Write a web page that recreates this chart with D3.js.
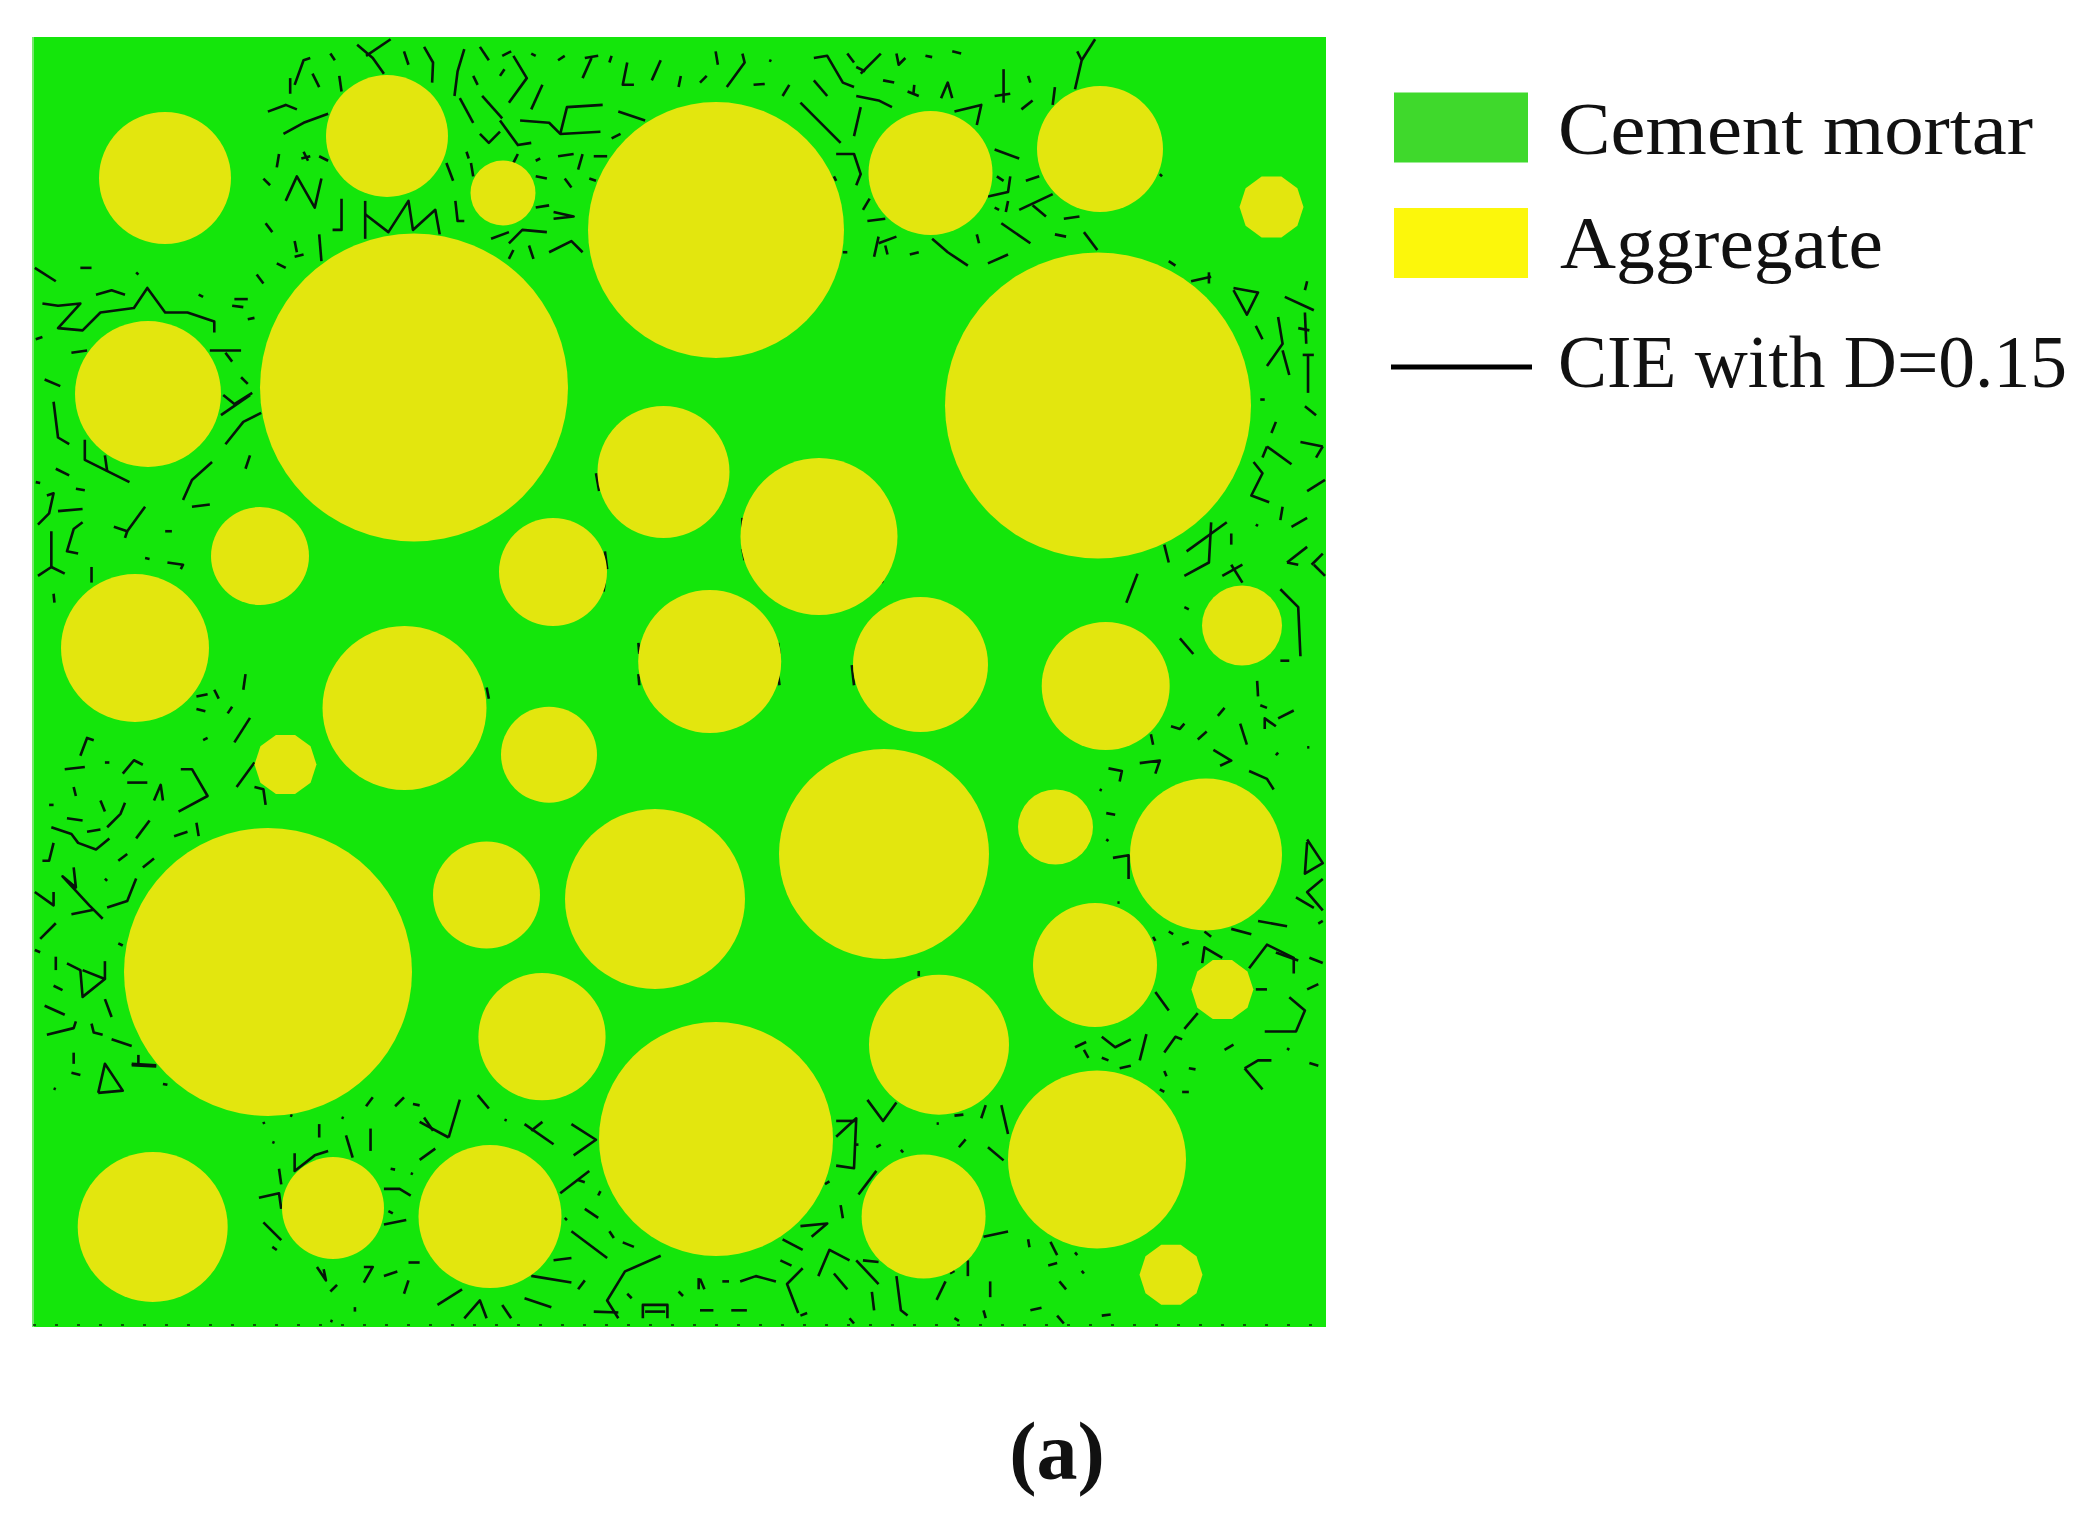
<!DOCTYPE html>
<html>
<head>
<meta charset="utf-8">
<script src="https://cdnjs.cloudflare.com/ajax/libs/d3/7.8.5/d3.min.js"></script>
<style>
  html, body { margin: 0; padding: 0; background: #fff; }
  svg { display: block; }
  text { font-family: "Liberation Serif", serif; fill: #111; }
</style>
</head>
<body>
<svg width="2096" height="1525"></svg>
<script>
// aggregates, in mesh units measured from the specimen's top left corner
const aggX = [132,354,470,381,115,227,520,102,371.5,630.5,786,683,897.5,1067,1238.5,1065,1209,887.5,1072.7,676.7,252.5,235,516,453.5,622,509,119.7,300,457,683,851,1022.5,1173,1062,1189.4,906,1064,890.6,1138];
const aggY = [141,99,156,350.5,357,519,535,611,671,435,499.5,193,136,112,170,368.5,588.5,627.5,649,624.5,727.5,935,717.7,858,862,999.7,1190,1171,1179.6,1102,817,790,817.5,928,952.6,1007.7,1122.5,1179.4,1237.7];
const aggR = [66,61,32.5,154,73,49,54,74,82,66,78.5,128,62,63,32,153,40,67.5,64,71.5,31,144,48,53.5,90,63.6,75,51,71.5,117,105,37.5,76,62,31,70,89,62,31.5];

// crack traces read tile by tile, each trace is x,y,x,y... in tile units (0-1568)
const cracksTopLeft = [
[800,100,835,130,860,165],[820,125,875,88],[905,115,915,145],[950,105,970,140,968,185],
[1040,110,1025,160,1018,215],[1075,105,1095,135],[1060,170,1070,190],[1125,125,1145,115],[1130,155,1120,170],
[1150,125,1180,175,1140,230],[1215,190,1190,245],[1030,220,1060,275],[1080,215,1125,265],[1075,300,1095,320,1120,295],
[1120,270,1160,325,1190,320],[1165,270,1230,275,1255,300,1345,295],[1255,300,1270,240,1350,235],[1310,130,1340,125],[1325,130,1305,175],
[1370,125,1365,140],[1405,140,1395,190,1420,190],[1480,135,1460,180],[1525,170,1520,195],[1250,135,1265,125],[1190,120,1200,125],
[660,190,680,135,695,130],[650,175,650,210],[700,165,715,195],[760,170,765,205],[740,120,750,135],[600,250,640,235,665,245],
[635,300,680,275,735,255],[625,345,620,375],[675,355,695,350],[680,340,690,360],[715,350,735,360],[590,400,605,415],
[640,450,665,395,705,465,720,400],[595,500,610,520],[660,540,665,565],[715,525,720,585],[660,575,680,570],[765,445,765,515,745,515],
[818,450,818,535],[818,480,870,520,915,450,925,515,975,470,985,525],[620,590,640,600],[575,615,590,635],[1020,450,1025,495,1040,495],
[1000,365,1015,405],[1045,340,1050,355],[1055,365,1060,395],[1160,345,1150,365],[1200,360,1210,355],[1250,350,1285,345],[1305,345,1295,380],
[1265,400,1280,420],[1200,395,1225,400],[1200,465,1230,460],[1240,490,1285,485,1240,475],[1100,535,1140,520],[1140,545,1170,515,1225,520],
[1140,580,1150,560],[1185,550,1195,580],[1230,565,1280,540,1305,565],[1385,250,1445,270],[1390,300,1370,310],[1330,350,1360,350],[1320,400,1335,405],
[78,600,125,630],[180,600,205,600],[95,680,130,685,180,680,130,735,185,740,225,700,300,690,330,645,370,700,420,700,480,720,480,745],
[215,660,250,650,280,660],[305,610,310,615],[525,670,555,670],[520,685,545,688],[445,660,455,665],[555,715,570,712],[470,785,540,785],[505,790,520,810],
[160,790,195,785],[100,850,135,865],[120,900,130,980,155,995],[540,845,555,860],[500,885,525,905,565,880],[495,930,560,885],[505,995,545,945,585,925],
[190,985,190,1030,290,1080],[235,1020,240,1055],[125,1050,155,1065],[80,1080,90,1082],[170,1095,190,1098],[410,1120,430,1075,475,1035],[550,1050,560,1020],
[430,1135,470,1130],[105,1110,120,1105,110,1150,85,1175],[130,1145,185,1140],[185,1170,165,1185,150,1235,175,1240],[255,1180,285,1190,325,1135],[285,1190,280,1205],
[115,1190,115,1270,85,1290],[115,1270,145,1285],[80,760,95,755],[370,1190,385,1190],[375,1260,410,1265,405,1275],[205,1270,205,1305],[325,1250,335,1252],[120,1330,122,1350],
[1335,1060,1342,1100],[1355,1235,1360,1275],[1355,1300,1352,1325],[1430,1440,1432,1465],[1430,1510,1432,1535],[1090,1540,1095,1565],[440,1560,465,1555],[480,1545,490,1565],[550,1510,545,1545]
];
const cracksBottomLeft = [
[440,20,460,25],[510,30,520,15],[525,95,560,40],[455,90,465,85],[180,125,195,85,210,90],[145,155,190,150],[235,140,245,140],[275,165,300,135,320,145],[285,185,330,185],
[165,195,170,215],[345,225,360,190,365,225],[405,155,430,155,465,215,400,250],[530,195,570,140],[570,195,590,200,595,235],[110,235,120,235],[225,225,235,250],[150,265,185,270],
[280,230,270,255,240,285],[115,285,160,300,175,320,215,335,245,310],[195,295,225,290],[305,310,335,270],[390,305,420,295],[440,275,445,305],[120,320,110,360,95,360],[265,360,285,345],[320,375,345,355],
[165,375,170,420,140,395,200,460,230,490],[160,480,210,470],[240,465,285,450,305,400],[235,400,240,405],[78,430,120,460,120,430],[125,500,90,535],[78,560,90,565],[125,575,125,605],
[150,590,180,605,185,665,235,625,185,605],[235,585,235,625],[120,640,140,650],[235,670,250,710],[100,685,145,705],[105,750,165,735,170,720],[205,725,210,745,230,750],[250,760,295,775],
[165,790,165,815],[160,835,180,840],[295,815,350,818],[295,818,350,821],[310,795,310,815],[220,880,235,815,275,875,220,880],[120,870,125,872],[365,860,375,862],[265,545,275,550],
[820,910,835,890],[885,910,905,890],[925,905,940,908],[1005,980,1030,895],[940,945,1005,980],[950,935,970,965],[1070,885,1095,915],[590,945,592,950],[650,930,655,932],[765,935,770,937],[610,990,615,992],
[715,950,715,980],[830,960,830,1010],[775,975,790,1025],[660,1015,660,1055,705,1020,735,1010],[625,1050,630,1085],[1175,950,1240,995],[1215,945,1190,965],[1280,950,1335,985,1285,1020],[1130,940,1135,942],[940,1030,975,1005],
[860,1095,895,1095,920,1110],[875,1050,885,1052],[920,1060,925,1062],[580,1115,625,1105,630,1140],[590,1170,630,1210],[610,1225,620,1232],[1255,1105,1320,1055],[1295,1075,1310,1080],[860,1175,910,1165],[870,1145,880,1150],
[915,1260,940,1260],[710,1270,730,1300,725,1275],[740,1325,755,1310],[815,1270,835,1270,815,1305],[860,1290,890,1280],[915,1300,905,1330],[980,1355,1035,1320],[1040,1385,1075,1345,1090,1385],[1125,1355,1145,1385],[1175,1340,1235,1360],
[1190,1290,1280,1305],[1240,1255,1280,1250],[1295,1320,1310,1300],[1345,1100,1340,1110],[1310,1140,1340,1160],[1280,1190,1360,1250],[1365,1190,1375,1205],[1395,1215,1420,1225],[1480,1245,1400,1280,1360,1345,1385,1385],[1330,1370,1385,1372],
[1440,1385,1440,1355,1495,1355,1495,1385],[1445,1370,1490,1370],[1405,1330,1415,1340],[1520,1325,1530,1335],[1565,1295,1565,1320],[795,1360,795,1370],[740,1390,745,1392],[1265,1160,1270,1165]
];
const cracksTopRight = [
[35,115,40,145],[95,120,100,140,60,195],[0,185,15,170],[155,135,160,137],[120,190,145,188],[185,215,200,190],[255,130,285,125,320,185,345,195],[330,120,345,140],[360,165,405,120],[350,150,370,160],
[440,120,445,145,460,130],[505,125,520,128],[565,115,585,120],[255,180,285,215],[410,180,435,185],[465,205,490,215],[480,190,478,210],[540,220,555,185,565,220],[680,155,680,230],[660,215,695,210],[735,170,740,185],
[720,245,745,225],[795,195,790,235],[855,135,885,88],[845,115,855,135,840,200],[570,250,630,235,620,280],[350,215,400,225,430,240],[225,230,315,320],[360,240,345,305],[305,345,345,345,360,390,350,415],[365,470,380,445],
[375,495,415,490],[400,530,390,575],[400,545,440,530],[415,550,420,570],[470,570,490,565],[520,535,555,565,600,595],[620,525,625,545],[645,590,690,570],[660,335,715,355],[695,395,690,430,645,440],[665,395,680,405],
[690,450,685,475],[730,405,760,395],[715,470,790,435],[745,460,775,485],[660,465,670,470],[675,500,740,545],[815,490,850,485],[795,525,820,530],[860,520,890,560],[1050,585,1065,595],[1100,630,1145,620],[1140,610,1140,635],
[1195,645,1250,655,1225,705,1195,650],[1245,730,1260,760],[1310,665,1375,695],[1360,630,1355,650],[1295,710,1305,770,1270,820],[1305,785,1320,840],[1355,700,1358,770],[1340,735,1365,740],[1350,795,1375,795],[1362,795,1362,880],
[1255,895,1265,895],[1290,945,1280,970],[1355,910,1380,930],[1270,1000,1325,1040],[1270,1000,1260,1025],[1345,990,1395,1000],[1380,1025,1395,1000],[1240,1035,1260,1060,1235,1110,1275,1125],[1360,1100,1400,1075],[1305,1135,1300,1165],
[1325,1180,1360,1160],[1245,1175,1250,1178],[1145,1170,1140,1260,1085,1290],[1090,1235,1180,1170],[1040,1220,1050,1260],[1190,1195,1190,1220],[1170,1290,1215,1265],[1190,1265,1215,1305],[1315,1260,1360,1225],[1315,1260,1340,1265],
[1370,1265,1395,1240],[1375,1265,1400,1290],[980,1285,955,1350],[1085,1360,1095,1365],[1075,1430,1105,1465],[1300,1320,1340,1360,1345,1470],[1300,1480,1320,1480],[1248,1525,1250,1560],[95,1160,95,1200],[95,1230,100,1255],
[175,1440,178,1465],[175,1510,178,1535],[340,1490,345,1535],[320,565,330,565],[300,395,305,405],[1030,390,1035,395],[405,1300,410,1305]
];
const cracksBottomRight = [
[1160,30,1175,15],[1255,10,1270,15],[1265,55,1265,35,1290,50],[1295,35,1330,20],[1055,50,1075,55,1085,45],[1115,75,1135,60],[1210,45,1225,85],[1010,65,1015,85],[1150,95,1190,115,1165,125],[1290,105,1295,100],[1360,90,1365,90],
[985,120,1030,115,1020,140],[1230,135,1270,150,1285,170],[915,130,945,135,940,155],[895,170,900,172],[910,215,930,218],[910,265,915,268],[925,300,960,295,960,340],[935,385,940,385],[1360,265,1395,310,1355,330,1360,270],
[1395,340,1360,365,1395,400],[1335,375,1375,395],[1385,425,1395,420],[1250,420,1315,430],[1190,435,1235,445],[1130,440,1145,450],[1015,450,1020,458],[1050,440,1060,445],[1080,465,1095,460],[1125,500,1130,470,1170,490],
[1230,510,1270,465,1330,490,1330,520],[1290,480,1340,495],[1365,490,1395,500],[1360,550,1385,540],[1245,550,1270,550],[1320,565,1355,590,1335,630,1265,630],[1020,555,1050,590],[1085,625,1115,595],[1175,665,1195,655],[1040,670,1065,640,1080,645],
[1220,700,1250,685,1280,685],[1220,700,1260,740],[840,660,865,650],[860,665,870,680],[900,640,930,660,965,645],[985,685,1000,635],[900,680,915,685],[940,700,965,695],[1040,705,1045,715],[1095,700,1110,702],[1030,740,1040,745],[1080,745,1095,745],
[1315,662,1320,665],[1365,690,1385,695],[490,515,490,525],[375,760,410,800,440,765],[305,830,350,795,345,890,305,885],[305,800,350,800],[345,845,355,845],[395,850,405,845],[450,855,455,860],[570,790,590,788],[630,795,640,770],[675,770,690,825],
[580,850,595,835],[645,850,680,875],[530,805,535,805],[290,915,280,920],[355,940,395,895],[315,960,320,985],[225,1000,285,995,250,1020],[185,1025,230,1045],[180,1065,205,1075],[90,1105,125,1095,170,1105],[50,1105,65,1105],[0,1100,10,1120],
[265,1095,290,1045,335,1065],[300,1090,330,1120],[230,1080,195,1110,220,1165],[350,1065,400,1110],[385,1125,390,1160],[365,1065,400,1068],[440,1095,450,1160,465,1170],[530,1140,550,1105],[600,1065,600,1095],[560,1090,570,1085],[650,1105,650,1135],
[635,1020,690,1010],[735,1025,738,1040],[785,1030,800,1055],[780,1075,800,1070],[805,1105,820,1120],[855,1085,860,1090],[840,1050,845,1055],[0,1160,30,1160],[70,1160,105,1160],[335,1175,345,1185],[635,1160,640,1175],[740,1160,765,1155],
[800,1170,815,1185],[900,1170,920,1168],[570,1175,580,1180],[240,1165,225,1170]
];

const legendLabels = ["Cement mortar", "Aggregate", "CIE with D=0.15"];
const caption = "(a)";

const svg = d3.select("svg");
const green = "#14e60b", yellow = "#e3e60e";

const meshW = 1293, meshH = 1289;
const x = d3.scaleLinear().domain([0, meshW]).range([33, 1326]);
const y = d3.scaleLinear().domain([0, meshH]).range([37, 1326]);
const r = d3.scaleLinear().domain([0, meshW]).range([0, 1293]);

svg.append("clipPath").attr("id", "panel")
  .append("rect").attr("x", x(0)).attr("y", y(0)).attr("width", r(meshW)).attr("height", y(meshH) - y(0));

svg.append("rect").attr("x", x(0)).attr("y", y(0)).attr("width", r(meshW)).attr("height", y(meshH) - y(0) + 1)
  .attr("fill", green);
// pale fringe on the left edge of the scan
svg.append("rect").attr("x", x(0) - 1).attr("y", y(0)).attr("width", 2).attr("height", y(meshH) - y(0) + 1)
  .attr("fill", "#74e86c");

const crackLayer = svg.append("g").attr("clip-path", "url(#panel)")
  .attr("fill", "none").attr("stroke", "#06150a").attr("stroke-width", 2.6).attr("stroke-linejoin", "round");

// each tile has its own scales, the two lower right rows cover 825 px
const tiles = [
  { traces: cracksTopLeft, xr: [0, 700], yr: [0, 700] },
  { traces: cracksBottomLeft, xr: [0, 700], yr: [700, 1400] },
  { traces: cracksTopRight, xr: [700, 1400], yr: [0, 700] },
  { traces: cracksBottomRight, xr: [700, 1400], yr: [700, 1525] }
];
tiles.forEach(function(t) {
  const tx = d3.scaleLinear().domain([0, 1568]).range(t.xr);
  const ty = d3.scaleLinear().domain([0, 1568]).range(t.yr);
  const line = d3.line().x(function(d) { return tx(d[0]); }).y(function(d) { return ty(d[1]); });
  crackLayer.selectAll(null)
    .data(t.traces)
    .enter()
    .append("path")
    .attr("d", function(d) { return line(d3.pairs(d).filter(function(p, i) { return i % 2 == 0; })); });
});

// broken row of elements along the bottom edge
svg.append("line")
  .attr("x1", x(0)).attr("x2", x(meshW))
  .attr("y1", y(meshH) - 1).attr("y2", y(meshH) - 1)
  .attr("stroke", "#0a2a0a").attr("stroke-width", 1.5).attr("stroke-dasharray", "3 19");

const circleIdx = d3.range(aggX.length);
const g = svg.append("g").attr("fill", yellow);
g.selectAll("circle")
  .data(circleIdx.filter(function(i) { return aggR[i] > 32; }))
  .enter()
  .append("circle")
  .attr("cx", function(i) { return x(aggX[i]); })
  .attr("cy", function(i) { return y(aggY[i]); })
  .attr("r", function(i) { return r(aggR[i]); });

// the smallest aggregates show up as coarse polygons in the mesh
const poly = d3.lineRadial().curve(d3.curveLinearClosed);
const sides = d3.range(10).map(function(k) { return (k + 0.5) * 2 * Math.PI / 10; });
g.selectAll("path")
  .data(circleIdx.filter(function(i) { return aggR[i] <= 32; }))
  .enter()
  .append("path")
  .attr("transform", function(i) { return "translate(" + x(aggX[i]) + "," + y(aggY[i]) + ")"; })
  .attr("d", function(i) { return poly(sides.map(function(a) { return [a, r(aggR[i])]; })); });

// legend
const swatchLabels = legendLabels.slice(0, 2);
const rowY = d3.scalePoint().domain(swatchLabels).range([127.5, 243]);
const swatchX = 1394, swatchW = 134, swatchH = 70;
const swatchFill = d3.scaleOrdinal().domain(swatchLabels).range(["#3fd92c", "#fcf70b"]);
svg.selectAll("rect.key")
  .data(swatchLabels)
  .enter()
  .append("rect").attr("class", "key")
  .attr("x", swatchX).attr("width", swatchW)
  .attr("y", function(d) { return rowY(d) - swatchH / 2; })
  .attr("height", swatchH)
  .attr("fill", function(d) { return swatchFill(d); });
svg.append("line")
  .attr("x1", 1391).attr("x2", 1532).attr("y1", 367).attr("y2", 367)
  .attr("stroke", "#000").attr("stroke-width", 5);

const labelBase = [154, 268, 387], labelX = [1558, 1560, 1558], labelLen = [475, 323, 509];
svg.selectAll("text.key")
  .data(legendLabels)
  .enter()
  .append("text").attr("class", "key")
  .attr("x", function(d, i) { return labelX[i]; })
  .attr("y", function(d, i) { return labelBase[i]; })
  .attr("font-size", 74)
  .attr("textLength", function(d, i) { return labelLen[i]; })
  .attr("lengthAdjust", "spacingAndGlyphs")
  .text(function(d) { return d; });

svg.append("text")
  .attr("x", 1057).attr("y", 1479)
  .attr("text-anchor", "middle")
  .attr("font-size", 82).attr("font-weight", "bold")
  .text(caption);
</script>
</body>
</html>
